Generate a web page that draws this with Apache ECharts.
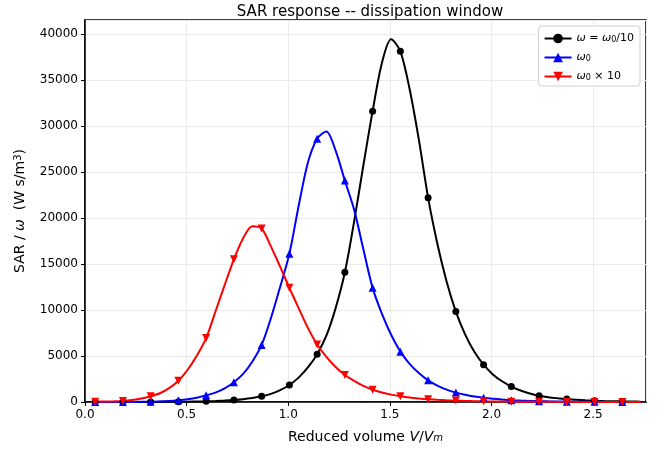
<!DOCTYPE html>
<html>
<head>
<meta charset="utf-8">
<script src="https://cdn.jsdelivr.net/npm/echarts@6/dist/echarts.min.js"></script>
<style>html,body{margin:0;padding:0;background:#fff;}#c{width:665px;height:451px;}</style>
</head>
<body>
<div id="c"></div>
<script>
const xs = [0.05,0.0955,0.141,0.1865,0.232,0.2775,0.323,0.3685,0.414,0.4595,
  0.505,0.5505,0.596,0.6415,0.687,0.7325,0.778,0.8235,0.869,0.9145,
  0.96,1.0055,1.051,1.0965,1.142,1.1875,1.233,1.2785,1.324,1.3695,
  1.415,1.4605,1.506,1.5515,1.597,1.6425,1.688,1.7335,1.779,1.8245,
  1.87,1.9155,1.961,2.0065,2.052,2.0975,2.143,2.1885,2.234,2.2795,
  2.325,2.3705,2.416,2.4615,2.507,2.5525,2.598,2.6435,2.689,2.7345];

const sarSlow = [0,0,0,0,5,8,10,14,18,22,
  35,50,70,100,150,220,310,440,620,880,
  1280,1850,2650,3750,5200,7200,10200,14100,19600,25700,
  31600,36800,39400,38100,34000,28500,22200,17200,13100,9820,
  7350,5450,4050,3000,2250,1680,1250,930,690,520,
  410,320,250,180,130,100,80,60,50,40];

const sarMid = [0,2,4,6,12,20,35,60,110,190,
  300,470,720,1020,1480,2150,3050,4400,6200,9100,
  12500,16100,21300,26000,28600,29400,27300,24050,20900,16600,
  12400,9600,7300,5470,4150,3150,2350,1780,1340,1020,
  780,590,450,340,260,200,150,115,90,70,
  55,40,32,25,20,15,12,10,8,6];

const sarFast = [30,50,75,120,220,380,620,950,1500,2300,
  3500,5050,6950,9800,12700,15500,17800,19100,18850,16900,
  14700,12400,10200,8050,6250,4900,3800,2930,2300,1750,
  1330,1030,800,620,480,380,300,240,190,150,
  120,90,70,55,45,35,28,24,20,16,
  13,10,8,7,6,5,4,3,3,2];

const seriesNames = ['ω = ω0/10', 'ω0', 'ω0 × 10'];
const legendRich = {
  'ω = ω0/10': '{i|ω}{n| = }{i|ω}{s|0}{n|/10}',
  'ω0': '{i|ω}{s|0}',
  'ω0 × 10': '{i|ω}{s|0}{n| × 10}'
};
const xTicks = [0, 0.5, 1.0, 1.5, 2.0, 2.5];

const MARK_EVERY = 3;
function build(vals, sym) {
  return xs.map((x, i) => ({
    value: [x, vals[i]],
    symbol: (i % MARK_EVERY === 0) ? sym : 'none'
  }));
}

const FONT = 'DejaVu Sans';
const chart = echarts.init(document.getElementById('c'), null, {renderer: 'canvas'});
const mkSeries = (name, vals, color, sym, size, rot) => ({
  name: name, type: 'line', data: build(vals, sym),
  smooth: 0.3,
  showSymbol: true, showAllSymbol: true,
  symbol: sym, symbolSize: size, symbolRotate: rot,
  lineStyle: {color: color, width: 2},
  itemStyle: {color: color},
  emphasis: {disabled: true}, animation: false, clip: true
});

chart.setOption({
  animation: false,
  title: {
    text: 'SAR response -- dissipation window',
    left: 365, top: 0, textAlign: 'center',
    textStyle: {fontFamily: FONT, fontSize: 15, fontWeight: 'normal', color: '#000'}
  },
  grid: {left: 85, right: 19, top: 20, bottom: 49, show: true, borderColor: '#000', borderWidth: 1.5, backgroundColor: 'transparent'},
  legend: {
    data: seriesNames,
    orient: 'vertical', right: 25, top: 26,
    backgroundColor: '#fff', borderColor: '#d0d0d0', borderWidth: 1, borderRadius: 3,
    padding: [4, 6, 4, 5], itemGap: 5, itemWidth: 27, itemHeight: 12,
    formatter: n => legendRich[n],
    textStyle: {
      fontFamily: FONT, fontSize: 11, color: '#000',
      rich: {
        n: {fontFamily: FONT, fontSize: 11, color: '#000'},
        i: {fontFamily: FONT, fontSize: 11, fontStyle: 'italic', color: '#000'},
        s: {fontFamily: FONT, fontSize: 8, color: '#000', verticalAlign: 'bottom', lineHeight: 8, padding: [6, 0, 0, 0]}
      }
    }
  },
  xAxis: {
    type: 'value', min: 0, max: 2.76, interval: 0.5,
    name: '{n|Reduced volume }{i|V}{n|/}{i|V}{s|m}',
    nameLocation: 'middle', nameGap: 27,
    nameTextStyle: {
      fontFamily: FONT, fontSize: 14, color: '#000',
      rich: {
        n: {fontFamily: FONT, fontSize: 14, color: '#000'},
        i: {fontFamily: FONT, fontSize: 14, fontStyle: 'italic', color: '#000'},
        s: {fontFamily: FONT, fontSize: 10, fontStyle: 'italic', color: '#000', verticalAlign: 'bottom', lineHeight: 10, padding: [8, 0, 0, 0]}
      }
    },
    axisLine: {show: true, lineStyle: {color: '#000', width: 1.5}},
    axisTick: {show: true, length: 4, lineStyle: {color: '#000'}},
    axisLabel: {fontFamily: FONT, fontSize: 12, color: '#000', margin: 7, showMaxLabel: false,
      formatter: v => xTicks.indexOf(v) >= 0 ? v.toFixed(1) : ''},
    splitLine: {show: true, lineStyle: {color: '#ebebeb', width: 1}}
  },
  yAxis: {
    type: 'value', min: 0, max: 41500, interval: 5000,
    name: '{n|SAR / }{i|ω}{n|  (W s/m}{p|3}{n|)}',
    nameLocation: 'middle', nameGap: 50, nameRotate: 90,
    nameTextStyle: {
      fontFamily: FONT, fontSize: 14, color: '#000',
      rich: {
        n: {fontFamily: FONT, fontSize: 14, color: '#000'},
        i: {fontFamily: FONT, fontSize: 14, fontStyle: 'italic', color: '#000'},
        p: {fontFamily: FONT, fontSize: 10, color: '#000', verticalAlign: 'top', lineHeight: 10, padding: [0, 0, 6, 0]}
      }
    },
    axisLine: {show: true, lineStyle: {color: '#000', width: 1.5}},
    axisTick: {show: true, length: 4, lineStyle: {color: '#000'}},
    axisLabel: {fontFamily: FONT, fontSize: 12, color: '#000', margin: 7, showMaxLabel: false,
      formatter: v => String(v)},
    splitLine: {show: true, lineStyle: {color: '#ebebeb', width: 1}}
  },
  series: [
    mkSeries(seriesNames[0], sarSlow, '#000000', 'circle', 7, 0),
    mkSeries(seriesNames[1], sarMid, '#0000ff', 'triangle', 8, 0),
    mkSeries(seriesNames[2], sarFast, '#ff0000', 'triangle', 8, 180)
  ]
});
</script>
</body>
</html>
